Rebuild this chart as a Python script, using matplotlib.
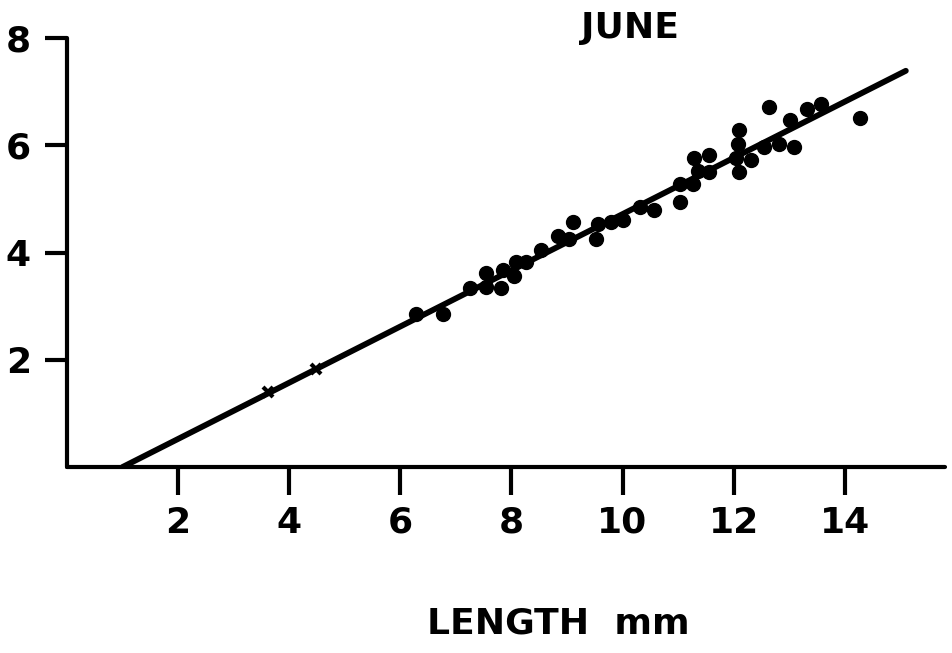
import matplotlib
matplotlib.use("Agg")
import matplotlib.pyplot as plt
import numpy as np

# Measured points (length mm vs. response) for June
length_mm = [6.29, 6.76, 7.25, 7.54, 7.55, 7.82, 7.84, 8.04, 8.08, 8.27,
             8.53, 8.83, 9.03, 9.10, 9.53, 9.55, 9.80, 10.01, 10.31, 10.56,
             11.03, 11.04, 11.26, 11.29, 11.35, 11.56, 11.56, 12.05, 12.07, 12.09,
             12.09, 12.32, 12.54, 12.63, 12.81, 13.02, 13.08, 13.33, 13.58, 14.28]
value = [2.86, 2.86, 3.34, 3.36, 3.61, 3.34, 3.67, 3.56, 3.82, 3.83,
         4.04, 4.31, 4.26, 4.57, 4.26, 4.53, 4.57, 4.61, 4.84, 4.79,
         4.94, 5.27, 5.27, 5.76, 5.52, 5.82, 5.50, 5.76, 6.02, 6.29,
         5.50, 5.72, 5.96, 6.72, 6.02, 6.48, 5.96, 6.68, 6.77, 6.50]

# Two small-length points marked with crosses
cross_length = [3.62, 4.48]
cross_value = [1.40, 1.82]

# Fitted regression line: y = slope * (x - x_intercept)
slope = 0.524
x_intercept = 1.0
line_x = np.array([1.0, 15.1])
line_y = slope * (line_x - x_intercept)

x_ticks = [2, 4, 6, 8, 10, 12, 14]
y_ticks = [2, 4, 6, 8]

fig = plt.figure(figsize=(9.53, 6.53), dpi=100)
ax = fig.add_axes([0.0703, 0.2848, 0.921, 0.657])

ax.plot(line_x, line_y, color="black", lw=4.2, solid_capstyle="round", zorder=2)
ax.plot(length_mm, value, "o", color="black", markersize=10, zorder=3)
ax.plot(cross_length, cross_value, "x", color="black", markersize=7, mew=3, zorder=3)

ax.set_xlim(0, 15.8)
ax.set_ylim(0, 8)
ax.spines["top"].set_visible(False)
ax.spines["right"].set_visible(False)
for s in ("left", "bottom"):
    ax.spines[s].set_linewidth(3)
    ax.spines[s].set_capstyle("round")

ax.set_xticks(x_ticks)
ax.set_xticklabels([str(t) for t in x_ticks])
ax.set_yticks(y_ticks)
ax.set_yticklabels([str(t) for t in y_ticks])
ax.tick_params(axis="x", direction="out", length=20, width=3, pad=8,
               labelsize=26)
ax.tick_params(axis="y", direction="out", length=16, width=3, pad=10,
               labelsize=26)
for lbl in ax.get_xticklabels() + ax.get_yticklabels():
    lbl.set_fontweight("bold")

fig.text(0.661, 0.957, "JUNE", ha="center", va="center", fontsize=26,
         fontweight="bold")
fig.text(0.586, 0.045, "LENGTH  mm", ha="center", va="center",
         fontsize=26, fontweight="bold")

fig.savefig("out.png", dpi=100, facecolor="white")
